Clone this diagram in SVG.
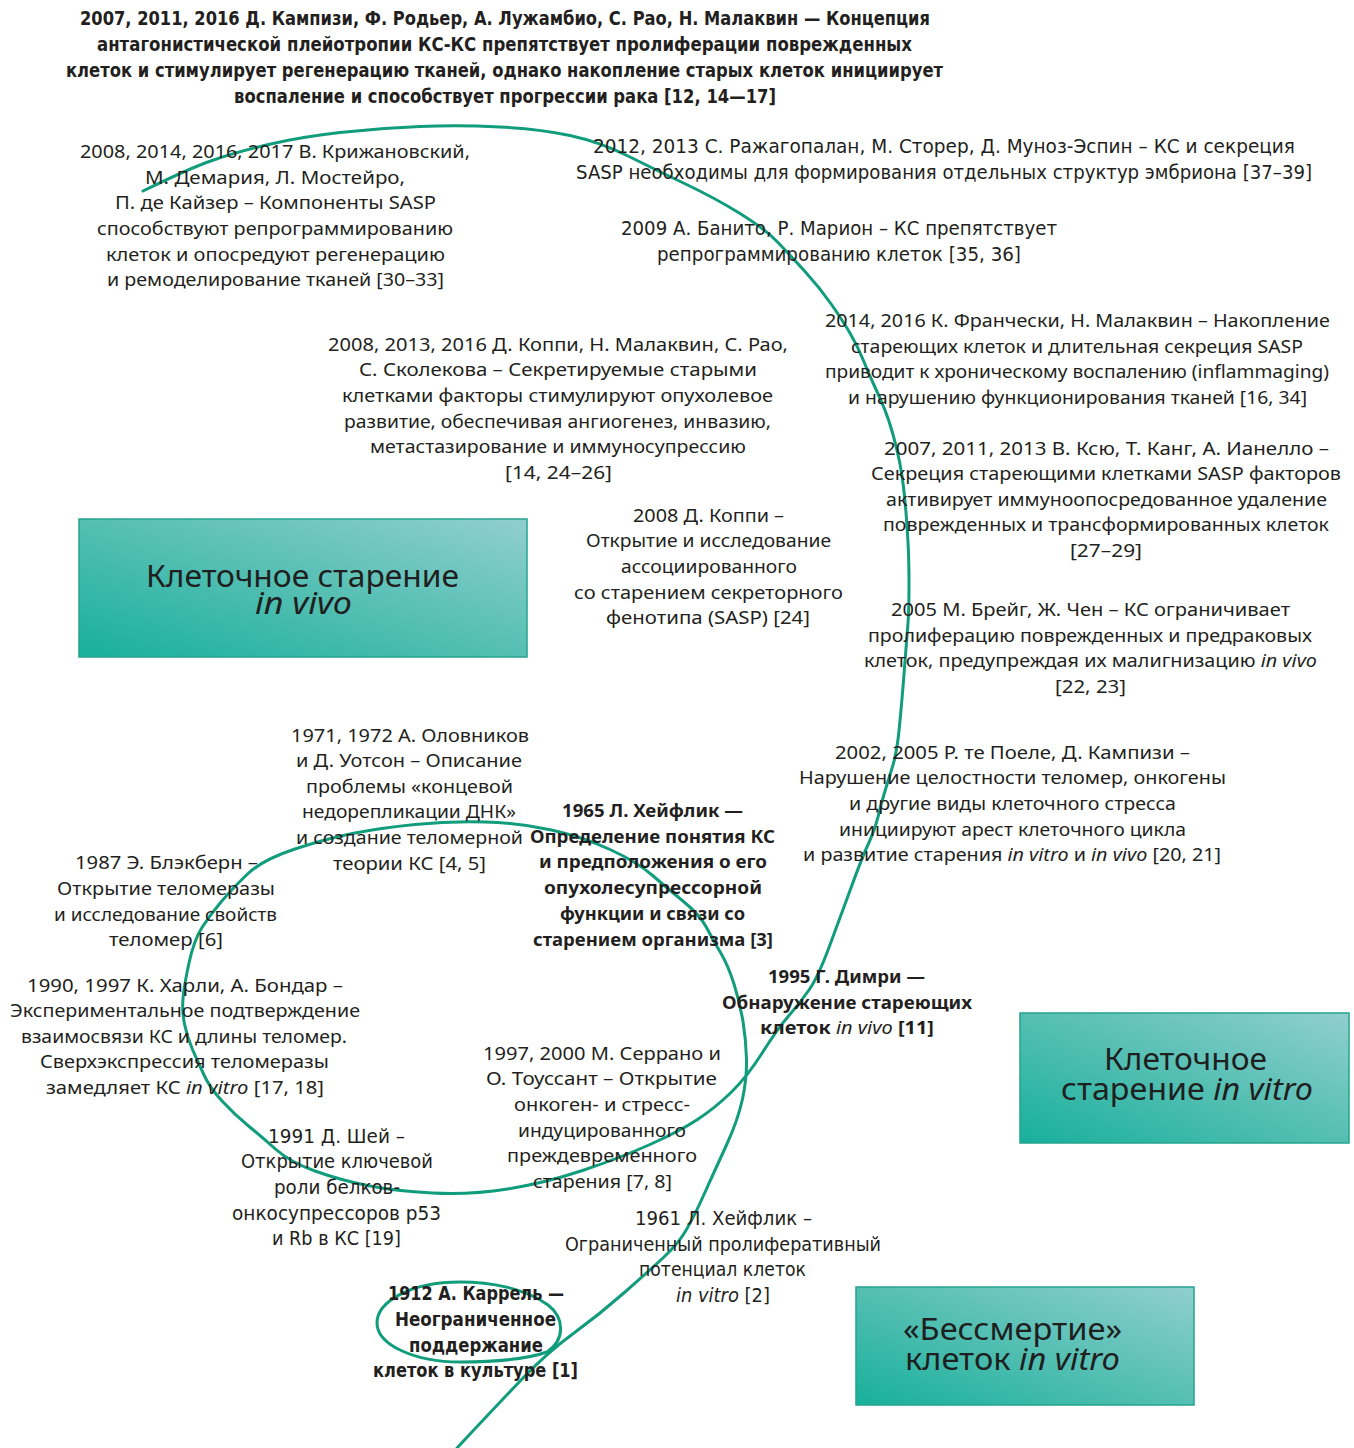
<svg xmlns="http://www.w3.org/2000/svg" width="1354" height="1448" viewBox="0 0 1354 1448">
<style>
text{font-family:"Noto Sans","Liberation Sans",sans-serif;font-size:18px;fill:#231f20;text-anchor:middle}
.b{font-weight:700}
.c{font-family:"DejaVu Sans Condensed","Liberation Sans Narrow","Noto Sans",sans-serif;font-size:19px}
.i{font-style:italic;font-weight:400}
.bx{font-size:30px;fill:#1f1f1f}
.box{fill:url(#g);stroke:#24a48e;stroke-width:1.5}
.spiral{fill:none;stroke:#119c7c;stroke-width:3;stroke-linecap:round}
</style>
<defs>
<linearGradient id="g" x1="0" y1="1" x2="1" y2="0">
<stop offset="0" stop-color="#17b09b"/>
<stop offset="0.5" stop-color="#55bfb3"/>
<stop offset="1" stop-color="#90cfcf"/>
</linearGradient>
</defs>
<rect width="1354" height="1448" fill="#ffffff"/>

<g id="connectors">
<path class="spiral" d="M457,1448 Q500,1402 524,1377 Q548,1352 574,1333 Q600,1314 625,1292 Q650,1270 663.5,1257.5 Q677,1245 685,1232 Q693,1219 704,1194.5 Q715,1170 726.5,1145 Q738,1120 742.5,1099 Q747,1078 746.5,1059 Q746,1040 743,1021.5 Q740,1003 734,984 Q728,965 720.5,952.5 Q713,940 706.5,927.5 Q700,915 683.5,901.5 Q667,888 652,875 Q637,862 610,849.5 Q583,837 551.5,830 Q520,823 485,822 Q450,821 415,824.5 Q380,828 352.5,833.5 Q325,839 293.5,849.5 Q262,860 247,874.5 Q232,889 221,902 Q210,915 202,927.5 Q194,940 189,963 Q184,986 183,998.5 Q182,1011 184.5,1024 Q187,1037 192.5,1049.5 Q198,1062 204,1075 Q210,1088 222.5,1101.5 Q235,1115 248.5,1126 Q262,1137 276,1149.5 Q290,1162 315,1171 Q340,1180 367.5,1185.5 Q395,1191 432.5,1193 Q470,1195 507.5,1189 Q545,1183 582.5,1170.5 Q620,1158 650,1144.5 Q680,1131 697.5,1119.5 Q715,1108 731,1092.5 Q747,1077 762.5,1052.5 Q778,1028 789,1015.5 Q800,1003 809,990 Q818,977 829,947.5 Q840,918 851.5,886.5 Q863,855 869,842.5 Q875,830 878,817 Q881,804 885,791 Q889,778 893,765 Q897,752 899.5,726 Q902,700 903.5,680.5 Q905,661 906,648.5 Q907,636 908,623 Q909,610 909,585 Q909,560 908,542.5 Q907,525 906,512.5 Q905,500 903.5,487 Q902,474 899.5,461.5 Q897,449 893,434.5 Q889,420 884.5,409 Q880,398 874,385 Q868,372 863,359.5 Q858,347 850.5,334 Q843,321 831.5,304.5 Q820,288 805,271.5 Q790,255 777.5,242 Q765,229 740,213.5 Q715,198 685.5,184 Q656,170 628,156 Q600,142 570,135.5 Q540,129 500,127 Q460,125 420,126.5 Q380,128 340,132.5 Q300,137 268.5,144.5 Q237,152 213.5,160 Q190,168 143,191"/>
<path class="spiral" d="M547,1352 C565,1340 565,1318 548,1305 C525,1288 490,1282 460,1282 C410,1282 377,1302 377,1323 C377,1345 415,1362 460,1362 C500,1362 530,1358 547,1352 Z"/>
</g>

<g id="box-in-vivo">
<rect class="box" x="79" y="519" width="448" height="138"/>
<text class="bx" x="302.5" y="587" textLength="313" lengthAdjust="spacingAndGlyphs">Клеточное старение</text>
<text class="bx i" x="303.5" y="614" textLength="97" lengthAdjust="spacingAndGlyphs">in vivo</text>
</g>
<g id="box-in-vitro">
<rect class="box" x="1020" y="1013" width="329" height="130"/>
<text class="bx" x="1185.5" y="1070" textLength="163" lengthAdjust="spacingAndGlyphs">Клеточное</text>
<text class="bx" x="1187" y="1100" textLength="252" lengthAdjust="spacingAndGlyphs">старение <tspan class="i">in vitro</tspan></text>
</g>
<g id="box-immortal">
<rect class="box" x="856" y="1287" width="338" height="118"/>
<text class="bx" x="1012.5" y="1340" textLength="219" lengthAdjust="spacingAndGlyphs">«Бессмертие»</text>
<text class="bx" x="1012.5" y="1370" textLength="215" lengthAdjust="spacingAndGlyphs">клеток <tspan class="i">in vitro</tspan></text>
</g>

<g id="n2007-title">
<text class="b c" x="505" y="25" textLength="850" lengthAdjust="spacingAndGlyphs">2007, 2011, 2016 Д. Кампизи, Ф. Родьер, А. Лужамбио, С. Рао, Н. Малаквин — Концепция</text>
<text class="b c" x="504.5" y="51" textLength="815" lengthAdjust="spacingAndGlyphs">антагонистической плейотропии КС-КС препятствует пролиферации поврежденных</text>
<text class="b c" x="504.5" y="77" textLength="877" lengthAdjust="spacingAndGlyphs">клеток и стимулирует регенерацию тканей, однако накопление старых клеток инициирует</text>
<text class="b c" x="505" y="103" textLength="542" lengthAdjust="spacingAndGlyphs">воспаление и способствует прогрессии рака [12, 14—17]</text>
</g>

<g id="n2008-sasp-reprog">
<text x="275" y="158" textLength="390" lengthAdjust="spacingAndGlyphs">2008, 2014, 2016, 2017 В. Крижановский,</text>
<text x="275" y="184" textLength="260" lengthAdjust="spacingAndGlyphs">М. Демария, Л. Мостейро,</text>
<text x="275.5" y="209" textLength="321" lengthAdjust="spacingAndGlyphs">П. де Кайзер – Компоненты SASP</text>
<text x="275" y="235" textLength="356" lengthAdjust="spacingAndGlyphs">способствуют репрограммированию</text>
<text x="275.5" y="261" textLength="339" lengthAdjust="spacingAndGlyphs">клеток и опосредуют регенерацию</text>
<text x="275.5" y="286" textLength="337" lengthAdjust="spacingAndGlyphs">и ремоделирование тканей [30–33]</text>
</g>

<g id="n2012-embryo">
<text class="c" x="944" y="153" textLength="702" lengthAdjust="spacingAndGlyphs">2012, 2013 С. Ражагопалан, М. Сторер, Д. Муноз-Эспин – КС и секреция</text>
<text class="c" x="944" y="179" textLength="736" lengthAdjust="spacingAndGlyphs">SASP необходимы для формирования отдельных структур эмбриона [37–39]</text>
</g>

<g id="n2009-banito">
<text class="c" x="839" y="235" textLength="436" lengthAdjust="spacingAndGlyphs">2009 А. Банито, Р. Марион – КС препятствует</text>
<text class="c" x="839" y="261" textLength="364" lengthAdjust="spacingAndGlyphs">репрограммированию клеток [35, 36]</text>
</g>

<g id="n2008-coppe-tumor">
<text x="558" y="351" textLength="460" lengthAdjust="spacingAndGlyphs">2008, 2013, 2016 Д. Коппи, Н. Малаквин, С. Рао,</text>
<text x="558" y="376" textLength="398" lengthAdjust="spacingAndGlyphs">С. Сколекова – Секретируемые старыми</text>
<text x="557.5" y="402" textLength="431" lengthAdjust="spacingAndGlyphs">клетками факторы стимулируют опухолевое</text>
<text x="557.5" y="428" textLength="427" lengthAdjust="spacingAndGlyphs">развитие, обеспечивая ангиогенез, инвазию,</text>
<text x="558" y="453" textLength="376" lengthAdjust="spacingAndGlyphs">метастазирование и иммуносупрессию</text>
<text x="558.5" y="479" textLength="107" lengthAdjust="spacingAndGlyphs">[14, 24–26]</text>
</g>

<g id="n2014-franceschi">
<text x="1077.5" y="327" textLength="505" lengthAdjust="spacingAndGlyphs">2014, 2016 К. Франчески, Н. Малаквин – Накопление</text>
<text x="1077" y="353" textLength="452" lengthAdjust="spacingAndGlyphs">стареющих клеток и длительная секреция SASP</text>
<text x="1077" y="378" textLength="504" lengthAdjust="spacingAndGlyphs">приводит к хроническому воспалению (inflammaging)</text>
<text x="1077.5" y="404" textLength="459" lengthAdjust="spacingAndGlyphs">и нарушению функционирования тканей [16, 34]</text>
</g>

<g id="n2007-xue">
<text x="1106.5" y="455" textLength="445" lengthAdjust="spacingAndGlyphs">2007, 2011, 2013 В. Ксю, Т. Канг, А. Ианелло –</text>
<text x="1106" y="480" textLength="470" lengthAdjust="spacingAndGlyphs">Секреция стареющими клетками SASP факторов</text>
<text x="1106.5" y="506" textLength="441" lengthAdjust="spacingAndGlyphs">активирует иммуноопосредованное удаление</text>
<text x="1106" y="531" textLength="446" lengthAdjust="spacingAndGlyphs">поврежденных и трансформированных клеток</text>
<text x="1106" y="557" textLength="72" lengthAdjust="spacingAndGlyphs">[27–29]</text>
</g>

<g id="n2008-coppe-sasp">
<text x="708.5" y="522" textLength="151" lengthAdjust="spacingAndGlyphs">2008 Д. Коппи –</text>
<text x="708.5" y="547" textLength="245" lengthAdjust="spacingAndGlyphs">Открытие и исследование</text>
<text x="709" y="573" textLength="176" lengthAdjust="spacingAndGlyphs">ассоциированного</text>
<text x="708.5" y="599" textLength="269" lengthAdjust="spacingAndGlyphs">со старением секреторного</text>
<text x="708" y="624" textLength="204" lengthAdjust="spacingAndGlyphs">фенотипа (SASP) [24]</text>
</g>

<g id="n2005-braig">
<text x="1090.5" y="616" textLength="399" lengthAdjust="spacingAndGlyphs">2005 М. Брейг, Ж. Чен – КС ограничивает</text>
<text x="1090" y="642" textLength="444" lengthAdjust="spacingAndGlyphs">пролиферацию поврежденных и предраковых</text>
<text x="1090.5" y="667" textLength="453" lengthAdjust="spacingAndGlyphs">клеток, предупреждая их малигнизацию <tspan class="i">in vivo</tspan></text>
<text x="1090.5" y="693" textLength="71" lengthAdjust="spacingAndGlyphs">[22, 23]</text>
</g>

<g id="n2002-tepoele">
<text x="1012.5" y="759" textLength="355" lengthAdjust="spacingAndGlyphs">2002, 2005 Р. те Поеле, Д. Кампизи –</text>
<text x="1012.5" y="784" textLength="427" lengthAdjust="spacingAndGlyphs">Нарушение целостности теломер, онкогены</text>
<text x="1012.5" y="810" textLength="327" lengthAdjust="spacingAndGlyphs">и другие виды клеточного стресса</text>
<text x="1012.5" y="836" textLength="347" lengthAdjust="spacingAndGlyphs">инициируют арест клеточного цикла</text>
<text x="1012" y="861" textLength="418" lengthAdjust="spacingAndGlyphs">и развитие старения <tspan class="i">in vitro</tspan> и <tspan class="i">in vivo</tspan> [20, 21]</text>
</g>

<g id="n1971-olovnikov">
<text x="410" y="742" textLength="238" lengthAdjust="spacingAndGlyphs">1971, 1972 А. Оловников</text>
<text x="409" y="767" textLength="226" lengthAdjust="spacingAndGlyphs">и Д. Уотсон – Описание</text>
<text x="409.5" y="793" textLength="207" lengthAdjust="spacingAndGlyphs">проблемы «концевой</text>
<text x="409" y="818" textLength="214" lengthAdjust="spacingAndGlyphs">недорепликации ДНК»</text>
<text x="409.5" y="844" textLength="227" lengthAdjust="spacingAndGlyphs">и создание теломерной</text>
<text x="409.5" y="870" textLength="153" lengthAdjust="spacingAndGlyphs">теории КС [4, 5]</text>
</g>

<g id="n1965-hayflick">
<text class="b" x="652.5" y="817" textLength="181" lengthAdjust="spacingAndGlyphs">1965 Л. Хейфлик —</text>
<text class="b" x="652.5" y="843" textLength="245" lengthAdjust="spacingAndGlyphs">Определение понятия КС</text>
<text class="b" x="653" y="868" textLength="228" lengthAdjust="spacingAndGlyphs">и предположения о его</text>
<text class="b" x="653" y="894" textLength="218" lengthAdjust="spacingAndGlyphs">опухолесупрессорной</text>
<text class="b" x="652.5" y="920" textLength="185" lengthAdjust="spacingAndGlyphs">функции и связи со</text>
<text class="b" x="653" y="946" textLength="240" lengthAdjust="spacingAndGlyphs">старением организма [3]</text>
</g>

<g id="n1987-blackburn">
<text x="166.5" y="869" textLength="183" lengthAdjust="spacingAndGlyphs">1987 Э. Блэкберн –</text>
<text x="166" y="895" textLength="218" lengthAdjust="spacingAndGlyphs">Открытие теломеразы</text>
<text x="165.5" y="921" textLength="223" lengthAdjust="spacingAndGlyphs">и исследование свойств</text>
<text x="166" y="946" textLength="114" lengthAdjust="spacingAndGlyphs">теломер [6]</text>
</g>

<g id="n1990-harley">
<text x="185" y="992" textLength="316" lengthAdjust="spacingAndGlyphs">1990, 1997 К. Харли, А. Бондар –</text>
<text x="185" y="1017" textLength="350" lengthAdjust="spacingAndGlyphs">Экспериментальное подтверждение</text>
<text x="184" y="1043" textLength="326" lengthAdjust="spacingAndGlyphs">взаимосвязи КС и длины теломер.</text>
<text x="184.5" y="1068" textLength="289" lengthAdjust="spacingAndGlyphs">Сверхэкспрессия теломеразы</text>
<text x="185" y="1094" textLength="278" lengthAdjust="spacingAndGlyphs">замедляет КС <tspan class="i">in vitro</tspan> [17, 18]</text>
</g>

<g id="n1995-dimri">
<text class="b" x="846.5" y="983" textLength="157" lengthAdjust="spacingAndGlyphs">1995 Г. Димри —</text>
<text class="b" x="847" y="1009" textLength="250" lengthAdjust="spacingAndGlyphs">Обнаружение стареющих</text>
<text class="b" x="847" y="1034" textLength="174" lengthAdjust="spacingAndGlyphs">клеток <tspan class="i">in vivo</tspan> [11]</text>
</g>

<g id="n1997-serrano">
<text x="602" y="1060" textLength="238" lengthAdjust="spacingAndGlyphs">1997, 2000 М. Серрано и</text>
<text x="601.5" y="1085" textLength="231" lengthAdjust="spacingAndGlyphs">О. Тоуссант – Открытие</text>
<text x="602" y="1111" textLength="176" lengthAdjust="spacingAndGlyphs">онкоген- и стресс-</text>
<text x="602" y="1137" textLength="168" lengthAdjust="spacingAndGlyphs">индуцированного</text>
<text x="602" y="1162" textLength="190" lengthAdjust="spacingAndGlyphs">преждевременного</text>
<text x="602.5" y="1188" textLength="139" lengthAdjust="spacingAndGlyphs">старения [7, 8]</text>
</g>

<g id="n1991-shay">
<text class="c" x="336.5" y="1143" textLength="137" lengthAdjust="spacingAndGlyphs">1991 Д. Шей –</text>
<text class="c" x="337" y="1168" textLength="192" lengthAdjust="spacingAndGlyphs">Открытие ключевой</text>
<text class="c" x="337" y="1194" textLength="126" lengthAdjust="spacingAndGlyphs">роли белков-</text>
<text class="c" x="336.5" y="1220" textLength="209" lengthAdjust="spacingAndGlyphs">онкосупрессоров p53</text>
<text class="c" x="336.5" y="1245" textLength="129" lengthAdjust="spacingAndGlyphs">и Rb в КС [19]</text>
</g>

<g id="n1961-hayflick">
<text class="c" x="723.5" y="1225" textLength="177" lengthAdjust="spacingAndGlyphs">1961 Л. Хейфлик –</text>
<text class="c" x="723" y="1251" textLength="316" lengthAdjust="spacingAndGlyphs">Ограниченный пролиферативный</text>
<text class="c" x="722.5" y="1276" textLength="167" lengthAdjust="spacingAndGlyphs">потенциал клеток</text>
<text class="c" x="723" y="1302" textLength="94" lengthAdjust="spacingAndGlyphs"><tspan class="i">in vitro</tspan> [2]</text>
</g>

<g id="n1912-carrel">
<text class="b c" x="476" y="1300" textLength="176" lengthAdjust="spacingAndGlyphs">1912 А. Каррель —</text>
<text class="b c" x="475.5" y="1326" textLength="161" lengthAdjust="spacingAndGlyphs">Неограниченное</text>
<text class="b c" x="476" y="1352" textLength="134" lengthAdjust="spacingAndGlyphs">поддержание</text>
<text class="b c" x="475.5" y="1377" textLength="205" lengthAdjust="spacingAndGlyphs">клеток в культуре [1]</text>
</g>
</svg>
